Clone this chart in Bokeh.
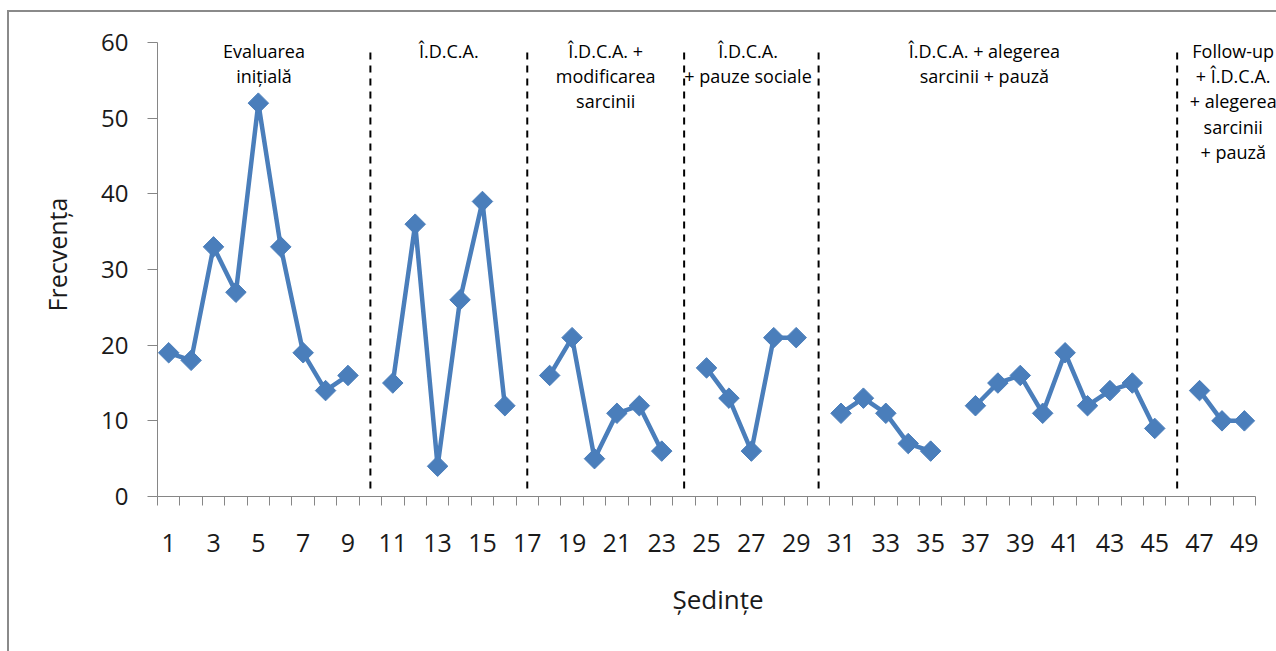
import numpy as np
from bokeh.plotting import figure
from bokeh.models import (ColumnDataSource, Range1d, FixedTicker, LinearAxis)
from bokeh.core.properties import value
from bokeh.embed import file_html
from bokeh.resources import INLINE

# ---------------- data ----------------
sessions = list(range(1, 50))
frequency = [19, 18, 33, 27, 52, 33, 19, 14, 16, None,
             15, 36, 4, 26, 39, 12, None,
             16, 21, 5, 11, 12, 6, None,
             17, 13, 6, 21, 21, None,
             11, 13, 11, 7, 6, None,
             12, 15, 16, 11, 19, 12, 14, 15, 9, None,
             14, 10, 10]
phase_changes = [10, 17, 24, 30, 46]
phase_labels = [
    ["Evaluarea", "inițială"],
    ["Î.D.C.A."],
    ["Î.D.C.A. +", "modificarea", "sarcinii"],
    ["Î.D.C.A.", "+ pauze sociale"],
    ["Î.D.C.A. + alegerea", "sarcinii + pauză"],
    ["Follow-up", "+ Î.D.C.A.", "+ alegerea", "sarcinii", "+ pauză"],
]
x_tick_labels = list(range(1, 50, 2))
y_ticks = [0, 10, 20, 30, 40, 50, 60]
x_title = "Ședințe"
y_title = "Frecvența"

# ---------------- layout ----------------
W, H = 1267, 639
FRAME_L, FRAME_B = 148, 482
px_per_x = 22.37
px_per_y = (496 - 44) / 60.0
x_end = 0.5 + (W - FRAME_L) / px_per_x
y_end = FRAME_B / px_per_y
top_gap = (FRAME_B - 60 * px_per_y)  # pixels between frame top and the 60 level

p = figure(width=W, height=H, output_backend="svg", toolbar_location=None,
           x_range=Range1d(0.5, x_end), y_range=Range1d(0, y_end),
           x_axis_type=None, y_axis_type=None,
           min_border_left=FRAME_L, min_border_right=0, min_border_top=0,
           min_border_bottom=H - FRAME_B)
p.styles = {"margin-left": "7px", "margin-top": "10px", "box-sizing": "content-box",
            "border-left": "2px solid #8a8a8a", "border-top": "2px solid #8a8a8a",
            "border-bottom": "none", "border-right": "none"}
p.outline_line_color = None
p.background_fill_color = "white"
p.border_fill_color = "white"

AX = "#868686"
FONT = "Open Sans"
TXT = "#1a1a1a"

yaxis = LinearAxis(ticker=FixedTicker(ticks=y_ticks, minor_ticks=[]), bounds=(0, 60))
yaxis.axis_line_color = AX
yaxis.major_tick_line_color = AX
yaxis.major_tick_in = 0
yaxis.major_tick_out = 10
yaxis.minor_tick_line_color = None
yaxis.major_label_text_font = FONT
yaxis.major_label_text_font_size = "24px"
yaxis.major_label_text_color = TXT
yaxis.major_label_standoff = 19
yaxis.axis_label = y_title
yaxis.axis_label_text_font = FONT
yaxis.axis_label_text_font_size = "25px"
yaxis.axis_label_text_font_style = "normal"
yaxis.axis_label_text_color = TXT
yaxis.axis_label_standoff = 24
p.add_layout(yaxis, "left")

xaxis = LinearAxis(ticker=FixedTicker(ticks=x_tick_labels,
                                      minor_ticks=[s - 0.5 for s in sessions] + [sessions[-1] + 0.5]),
                   bounds=(0.5, 49.5))
xaxis.axis_line_color = AX
xaxis.major_tick_line_color = None
xaxis.major_tick_in = 0
xaxis.major_tick_out = 0
xaxis.minor_tick_line_color = AX
xaxis.minor_tick_in = 0
xaxis.minor_tick_out = 9
xaxis.major_label_text_font = FONT
xaxis.major_label_text_font_size = "25px"
xaxis.major_label_text_color = TXT
xaxis.major_label_standoff = 28
xaxis.axis_label = x_title
xaxis.axis_label_text_font = FONT
xaxis.axis_label_text_font_size = "26px"
xaxis.axis_label_text_font_style = "normal"
xaxis.axis_label_text_color = TXT
xaxis.axis_label_standoff = 26
p.add_layout(xaxis, "below")

p.xgrid.visible = False
p.ygrid.visible = False

# phase change lines
p.segment(x0=phase_changes, x1=phase_changes, y0=[1.06] * len(phase_changes),
          y1=[59.5] * len(phase_changes), line_color="black", line_width=2,
          line_dash="7 6")

# data series
yvals = [np.nan if v is None else float(v) for v in frequency]
src = ColumnDataSource(dict(x=sessions, y=yvals))
p.line("x", "y", source=src, line_color="#4A7EBB", line_width=4.5)
p.scatter("x", "y", source=src, marker="square", size=14.5, angle=np.pi / 4,
          fill_color="#4A7EBB", line_color="#4A7EBB")

# phase labels (first line 8 px below the 60 level, 25.3 px line spacing)
label_x = [5.25, 13.5, 20.5, 26.85, 37.4, 48.5]
lx, ly, lt = [], [], []
for cx, lines in zip(label_x, phase_labels):
    for i, t in enumerate(lines):
        lx.append(cx)
        ly.append(60 - (8 + i * 25.3) / px_per_y)
        lt.append(t)
p.text(x=lx, y=ly, text=lt, text_align="center", text_baseline="middle",
       text_font=value(FONT), text_font_size="18px", text_color="black")

open("out.html", "w").write(file_html(p, INLINE))
